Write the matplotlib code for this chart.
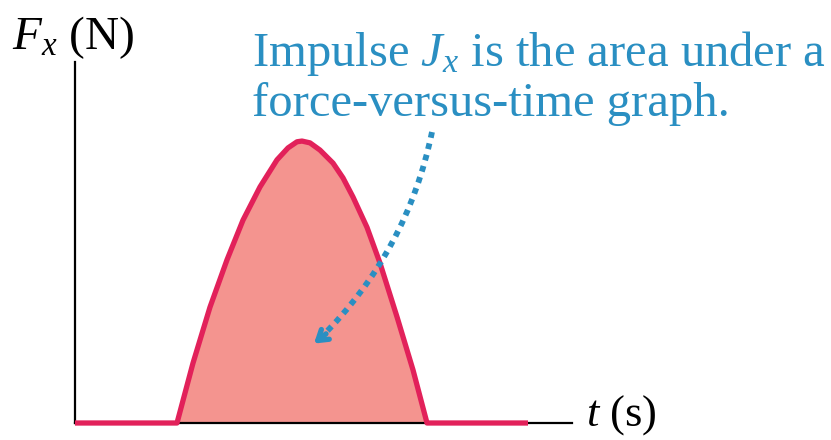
import matplotlib
matplotlib.use("Agg")
import matplotlib.pyplot as plt
import numpy as np

plt.rcParams["font.family"] = ["Liberation Serif", "DejaVu Serif"]
plt.rcParams["mathtext.fontset"] = "custom"
plt.rcParams["mathtext.rm"] = "Liberation Serif"
plt.rcParams["mathtext.it"] = "Liberation Serif:italic"

# force pulse (t in arbitrary s, F in arbitrary N)
t = [0.0, 2.04, 2.36, 2.70, 3.04, 3.36, 3.70, 4.04, 4.26, 4.44, 4.54, 4.70,
     4.90, 5.16, 5.36, 5.56, 5.84, 6.10, 6.44, 6.76, 7.04, 9.06]
F = [0.0, 0.0, 1.66, 3.21, 4.52, 5.62, 6.54, 7.29, 7.62, 7.79, 7.81, 7.76,
     7.56, 7.20, 6.79, 6.26, 5.42, 4.43, 2.94, 1.47, 0.0, 0.0]

t_max, F_max = 9.94, 10.0

line_col = "#e2215a"
fill_col = "#f4948f"
blue = "#2a8fc2"

fig = plt.figure(figsize=(8.31, 4.40), dpi=100)
ax = fig.add_axes([75 / 831, 17 / 440, 497 / 831, 361 / 440])
ax.set_xlim(0, t_max)
ax.set_ylim(0, F_max)
for s in ["top", "right"]:
    ax.spines[s].set_visible(False)
ax.spines["left"].set_linewidth(1.6)
ax.spines["bottom"].set_linewidth(1.6)
ax.set_xticks([])
ax.set_yticks([])

ax.fill_between(t, F, 0, color=fill_col, lw=0, zorder=1)
ax.plot(t, F, color=line_col, lw=3.8, solid_joinstyle="round",
        solid_capstyle="butt", zorder=3, clip_on=False)

# dotted curved arrow
ax.annotate("", xy=(4.92, 2.37), xytext=(7.14, 8.06),
            arrowprops=dict(arrowstyle="-", color=blue, lw=4.2,
                            linestyle=(0, (1, 1.0)), capstyle="butt",
                            connectionstyle="arc3,rad=-0.15",
                            shrinkA=0, shrinkB=0),
            annotation_clip=False, zorder=4)
ax.annotate("", xy=(4.78, 2.20), xytext=(5.02, 2.47),
            arrowprops=dict(arrowstyle="->,head_length=0.7,head_width=0.45",
                            color=blue, lw=3.8, shrinkA=0, shrinkB=0),
            annotation_clip=False, zorder=4)

fig.text(12 / 831, 1 - 49 / 440, r"$F_x$ (N)", fontsize=34, color="black",
         ha="left", va="baseline")
fig.text(586 / 831, 1 - 426 / 440, r"$t$ (s)", fontsize=32, color="black",
         ha="left", va="baseline")
fig.text(252 / 831, 1 - 66 / 440, r"Impulse $J_x$ is the area under a",
         fontsize=35, color=blue, ha="left", va="baseline")
fig.text(252 / 831, 1 - 116 / 440, "force-versus-time graph.",
         fontsize=35, color=blue, ha="left", va="baseline")

fig.savefig("out.png", dpi=100)
